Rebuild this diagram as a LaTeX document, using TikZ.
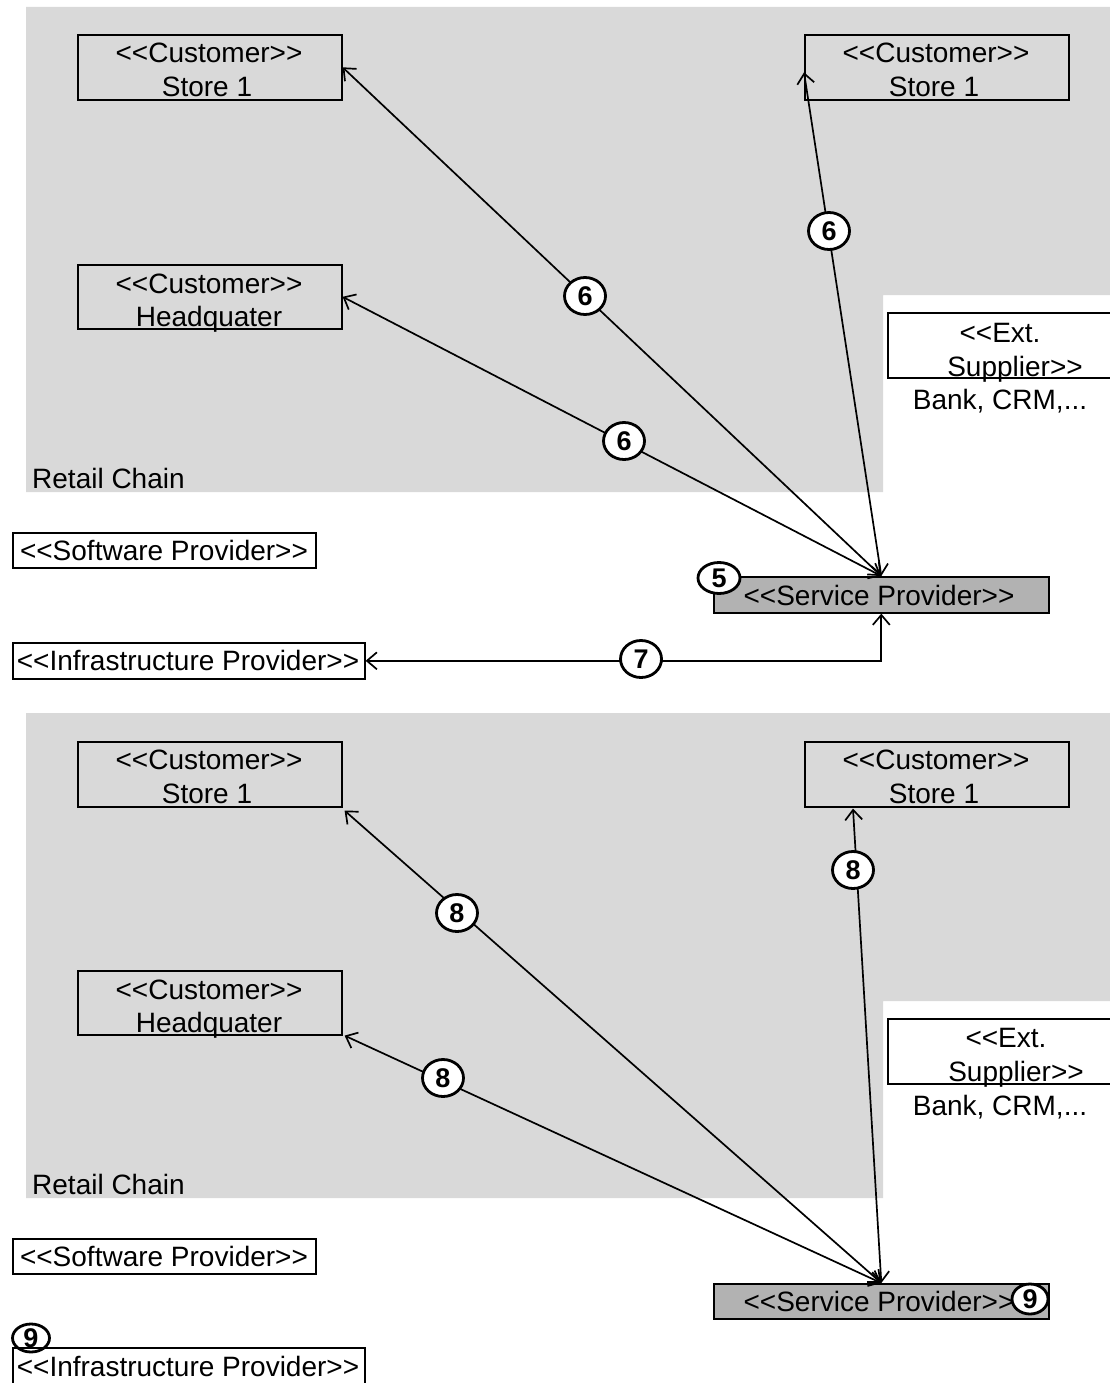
\documentclass[tikz,border=0pt]{standalone}
\usepackage{fontspec}
\setmainfont{Liberation Sans}[Ligatures=TeXOff]
\usetikzlibrary{arrows.meta,shapes.geometric}
\definecolor{chainbg}{gray}{0.85}
\definecolor{spfill}{gray}{0.70}
\begin{document}
\begin{tikzpicture}[x=1pt,y=-1pt,
  box/.style={draw=black, line width=1.6pt, inner sep=0pt, anchor=north west},
  txt/.style={inner sep=0pt, text height=20pt, text depth=0pt, font=\fontsize{28}{33}\selectfont},
  conn/.style={line width=1.7pt, {Straight Barb[length=10pt,width=17pt]}-{Straight Barb[length=10pt,width=17pt]}},
  badge/.style={ellipse, draw=black, line width=2.8pt, fill=white, inner sep=0pt,
    minimum width=41pt, minimum height=37pt, font=\fontsize{27}{27}\selectfont\bfseries}
]
\useasboundingbox (0,0) rectangle (1110,1383);
\fill[white] (0,0) rectangle (1110,1383);

% ---------------- upper scenario ----------------
\fill[chainbg] (26,7) -- (1110,7) -- (1110,295) -- (883,295) -- (883,492) -- (26,492) -- cycle;

\node[box, minimum width=264pt, minimum height=65pt] (sL) at (77,34) {};
\node[txt] (sLa) at (209,53) {<<Customer>>};
\node[txt] (sLb) at (207,87) {Store 1};

\node[box, minimum width=264pt, minimum height=65pt] (sR) at (804,34) {};
\node[txt] (sRa) at (936,53) {<<Customer>>};
\node[txt] (sRb) at (934,87) {Store 1};

\node[box, minimum width=264pt, minimum height=64pt] (hq) at (77,264) {};
\node[txt] (hqa) at (209,283) {<<Customer>>};
\node[txt] (hqb) at (209,316) {Headquater};

\node[box, fill=white, minimum width=230pt, minimum height=65pt] (ext) at (887,312) {};
\node[txt] (exta) at (1000,332) {<<Ext.};
\node[txt] (extb) at (1015,366) {Supplier>>};
\node[txt] (extc) at (1000,399) {Bank, CRM,...};

\node[txt, anchor=west] (rc) at (32,478) {Retail Chain};

\node[box, minimum width=303pt, minimum height=35pt] (sw) at (12,532) {};
\node[txt] (swt) at (164,550) {<<Software Provider>>};

\node[box, minimum width=352pt, minimum height=36pt] (ip) at (12,642) {};
\node[txt] (ipt) at (188,660) {<<Infrastructure Provider>>};

\node[box, fill=spfill, minimum width=335pt, minimum height=36pt] (sp) at (713,576) {};
\node[txt] (spt) at (879,595) {<<Service Provider>>};

\draw[conn] (sp.north) -- (sL.east);
\draw[conn] (sp.north) -- ([yshift=-5pt]sR.west);
\draw[conn] (sp.north) -- (hq.east);
\draw[conn] (sp.south) |- (ip.east);

\node[badge] (c6a) at (585,296) {6};
\node[badge] (c6b) at (829,231) {6};
\node[badge] (c6c) at (624,441) {6};
\node[badge] (c7) at (641,659) {7};
\node[badge, minimum width=42pt, minimum height=31pt] (c5) at (719,578) {5};

% ---------------- lower scenario ----------------
\fill[chainbg] (26,713) -- (1110,713) -- (1110,1001) -- (883,1001) -- (883,1198) -- (26,1198) -- cycle;

\node[box, minimum width=264pt, minimum height=65pt] (bsL) at (77,741) {};
\node[txt] (bsLa) at (209,759) {<<Customer>>};
\node[txt] (bsLb) at (207,793) {Store 1};

\node[box, minimum width=264pt, minimum height=65pt] (bsR) at (804,741) {};
\node[txt] (bsRa) at (936,759) {<<Customer>>};
\node[txt] (bsRb) at (934,793) {Store 1};

\node[box, minimum width=264pt, minimum height=64pt] (bhq) at (77,970) {};
\node[txt] (bhqa) at (209,989) {<<Customer>>};
\node[txt] (bhqb) at (209,1022) {Headquater};

\node[box, fill=white, minimum width=230pt, minimum height=65pt] (bext) at (887,1018) {};
\node[txt] (bexta) at (1006,1037) {<<Ext.};
\node[txt] (bextb) at (1016,1071) {Supplier>>};
\node[txt] (bextc) at (1000,1105) {Bank, CRM,...};

\node[txt, anchor=west] (brc) at (32,1184) {Retail Chain};

\node[box, minimum width=303pt, minimum height=35pt] (bsw) at (12,1238) {};
\node[txt] (bswt) at (164,1256) {<<Software Provider>>};

% badge 9 sits on the top edge of the infrastructure box; the box border runs across it
\node[badge, minimum width=37pt, minimum height=28pt] (c9a) at (31,1338) {9};
\node[box, minimum width=352pt, minimum height=37pt] (bip) at (12,1347) {};
\node[txt] (bipt) at (188,1366) {<<Infrastructure Provider>>};

\node[box, fill=spfill, minimum width=335pt, minimum height=35pt] (bsp) at (713,1283) {};
\node[txt] (bspt) at (879,1301) {<<Service Provider>>};

\draw[conn] (bsp.north) -- ([shift={(2,3)}]bsL.south east);
\draw[conn] (bsp.north) -- ([shift={(49,1)}]bsR.south west);
\draw[conn] (bsp.north) -- ([shift={(2,0)}]bhq.south east);

\node[badge] (c8a) at (457,913) {8};
\node[badge] (c8b) at (853,870) {8};
\node[badge] (c8c) at (443,1078) {8};
\node[badge, minimum width=36pt, minimum height=30pt] (c9b) at (1030,1299) {9};
\end{tikzpicture}
\end{document}
